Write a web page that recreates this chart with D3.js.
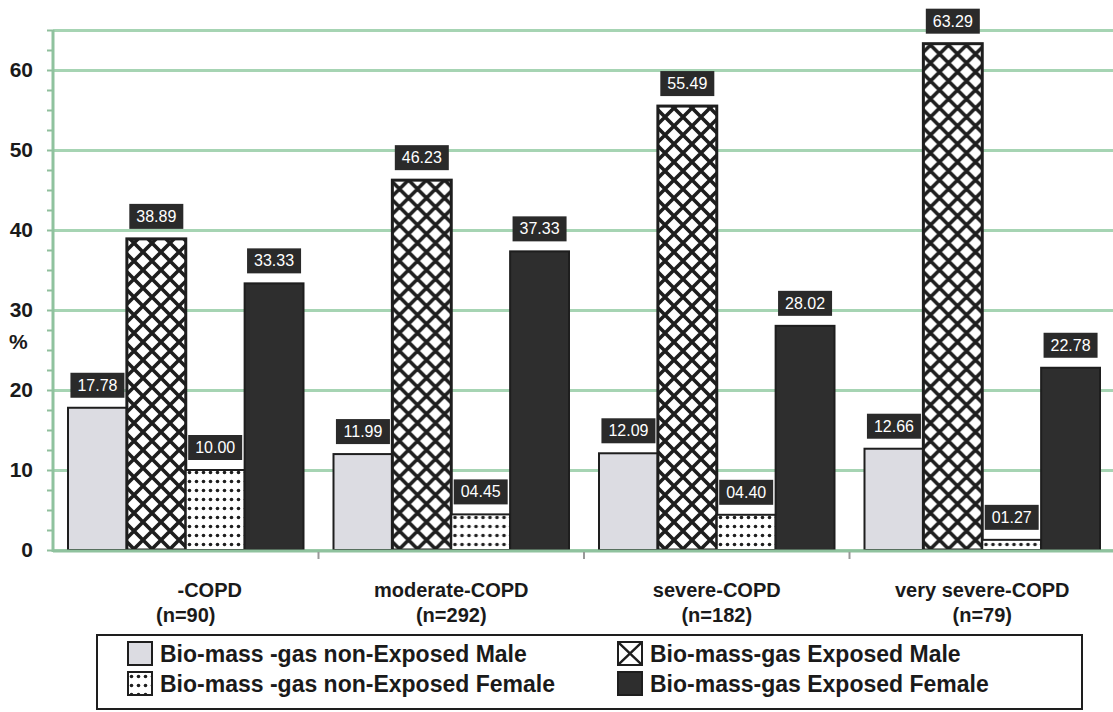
<!DOCTYPE html>
<html>
<head>
<meta charset="utf-8">
<script src="https://cdn.jsdelivr.net/npm/d3@7"></script>
<style>
  body { margin: 0; background: #fff; }
  svg { display: block; font-family: "Liberation Sans", Arial, sans-serif; }
</style>
</head>
<body>
<script>
// values
var categories = ["-COPD", "moderate-COPD", "severe-COPD", "very severe-COPD"]
var sampleSizes = ["(n=90)", "(n=292)", "(n=182)", "(n=79)"]
var seriesNames = [
  "Bio-mass -gas non-Exposed Male",
  "Bio-mass-gas Exposed Male",
  "Bio-mass -gas non-Exposed Female",
  "Bio-mass-gas Exposed Female"
]
var nonExposedMale = [17.78, 11.99, 12.09, 12.66]
var exposedMale = [38.89, 46.23, 55.49, 63.29]
var nonExposedFemale = [10.00, 4.45, 4.40, 1.27]
var exposedFemale = [33.33, 37.33, 28.02, 22.78]
var yTicks = [0, 10, 20, 30, 40, 50, 60]

var series = [nonExposedMale, exposedMale, nonExposedFemale, exposedFemale]
var fills = ["#dcdce2", "url(#cross)", "url(#dots)", "#2e2e2e"]

var width = 1113, height = 712
var green = "#a6d4b3"

var svg = d3.select("body")
  .append("svg")
  .attr("width", width)
  .attr("height", height)

var defs = svg.append("defs")

var cross = defs.append("pattern")
  .attr("id", "cross")
  .attr("patternUnits", "userSpaceOnUse")
  .attr("width", 18).attr("height", 18)
cross.append("rect").attr("width", 18).attr("height", 18).attr("fill", "#fff")
cross.append("path")
  .attr("d", "M-2,-2L20,20M20,-2L-2,20")
  .attr("stroke", "#1e1e1e").attr("stroke-width", 3.6)

var crossKey = defs.append("pattern")
  .attr("id", "crossKey")
  .attr("patternUnits", "objectBoundingBox")
  .attr("patternContentUnits", "objectBoundingBox")
  .attr("width", 1).attr("height", 1)
crossKey.append("rect").attr("width", 1).attr("height", 1).attr("fill", "#fff")
crossKey.append("path")
  .attr("d", "M0,0L1,1M1,0L0,1")
  .attr("stroke", "#1e1e1e").attr("stroke-width", 0.1)

var dots = defs.append("pattern")
  .attr("id", "dots")
  .attr("patternUnits", "userSpaceOnUse")
  .attr("width", 7).attr("height", 9)
dots.append("rect").attr("width", 7).attr("height", 9).attr("fill", "#fff")
dots.append("circle").attr("cx", 3.5).attr("cy", 4.5).attr("r", 1.8).attr("fill", "#1e1e1e")

var x0 = d3.scaleBand()
  .domain(categories)
  .range([53, 1115])

var x1 = d3.scaleBand()
  .domain(d3.range(series.length))
  .range([15, x0.bandwidth() - 15])

var y = d3.scaleLinear()
  .domain([0, 65])
  .range([550, 30])

// gridlines
svg.append("g")
  .attr("transform", "translate(53,0)")
  .call(d3.axisLeft(y).tickValues(yTicks.concat([65])).tickSize(-(width - 53)).tickFormat(""))
  .call(function(g){
    g.select(".domain").remove()
    g.selectAll("line").attr("stroke", green).attr("stroke-width", 3)
  })

// minor ticks on the y axis
svg.append("g")
  .attr("transform", "translate(53,0)")
  .call(d3.axisLeft(y).tickValues(d3.range(0, 65.1, 2.5)).tickSize(6).tickFormat(""))
  .call(function(g){
    g.select(".domain").remove()
    g.selectAll("line").attr("stroke", "#8fbf9c").attr("stroke-width", 2)
  })

// y axis labels
svg.append("g")
  .attr("transform", "translate(33,0)")
  .call(d3.axisLeft(y).tickValues(yTicks).tickSize(0).tickPadding(0))
  .call(function(g){
    g.select(".domain").remove()
    g.selectAll("text")
      .attr("font-family", "'Liberation Sans', Arial, sans-serif")
      .attr("font-size", 21)
      .attr("font-weight", "bold")
      .attr("fill", "#1a1a1a")
  })

svg.append("text").text("%")
  .attr("x", 9).attr("y", 349)
  .attr("font-size", 21).attr("font-weight", "bold").attr("fill", "#1a1a1a")

// bars
var groups = svg.selectAll("g.group")
  .data(categories)
  .enter()
  .append("g")
  .attr("class", "group")
  .attr("transform", function(d){ return "translate(" + x0(d) + ",0)" })

groups.selectAll("rect")
  .data(function(d, i){ return series.map(function(s, k){ return {k: k, v: s[i]} }) })
  .enter()
  .append("rect")
  .attr("x", function(d){ return x1(d.k) })
  .attr("width", x1.bandwidth())
  .attr("y", function(d){ return y(d.v) })
  .attr("height", function(d){ return y(0) - y(d.v) })
  .attr("fill", function(d){ return fills[d.k] })
  .attr("stroke", "#1e1e1e")
  .attr("stroke-width", function(d){ return d.k == 1 ? 3 : 2 })

// axis lines drawn over the bar bottoms
svg.append("line")
  .attr("x1", 53).attr("x2", width).attr("y1", 551).attr("y2", 551)
  .attr("stroke", "#8fc29e").attr("stroke-width", 3)
svg.append("line")
  .attr("x1", 53).attr("x2", 53).attr("y1", 30).attr("y2", 552)
  .attr("stroke", "#8fc29e").attr("stroke-width", 3)

// small ticks between the groups
svg.selectAll("line.xtick")
  .data(categories.slice(1))
  .enter()
  .append("line")
  .attr("class", "xtick")
  .attr("x1", function(d){ return x0(d) }).attr("x2", function(d){ return x0(d) })
  .attr("y1", 552).attr("y2", 559)
  .attr("stroke", "#999").attr("stroke-width", 2)

// value labels
var fmt = d3.format("05.2f")
var labels = groups.selectAll("g.lab")
  .data(function(d, i){ return series.map(function(s, k){ return {k: k, v: s[i]} }) })
  .enter()
  .append("g")
  .attr("class", "lab")
  .attr("transform", function(d){
    return "translate(" + (x1(d.k) + x1.bandwidth() / 2) + "," + (y(d.v) - 10) + ")"
  })
labels.append("rect")
  .attr("x", -27).attr("y", -25)
  .attr("width", 54).attr("height", 25)
  .attr("fill", "#2a2a2a")
labels.append("text")
  .text(function(d){ return fmt(d.v) })
  .attr("text-anchor", "middle")
  .attr("y", -7)
  .attr("font-size", 16)
  .attr("fill", "#fff")

// category labels
var catLabels = svg.selectAll("text.cat")
  .data(categories)
  .enter()
  .append("text")
  .attr("class", "cat")
  .attr("text-anchor", "middle")
  .attr("font-size", 20)
  .attr("font-weight", "bold")
  .attr("fill", "#1a1a1a")
catLabels.append("tspan")
  .attr("x", function(d){ return x0(d) + x0.bandwidth() / 2 })
  .attr("dx", function(d, i){ return i == 0 ? 24 : 0 })
  .attr("y", 597)
  .text(function(d){ return d })
catLabels.append("tspan")
  .attr("x", function(d){ return x0(d) + x0.bandwidth() / 2 })
  .attr("y", 622)
  .text(function(d, i){ return sampleSizes[i] })

// legend
svg.append("rect")
  .attr("x", 97).attr("y", 635)
  .attr("width", 985).attr("height", 74)
  .attr("fill", "#fff")
  .attr("stroke", "#1e1e1e").attr("stroke-width", 2)

var keyFills = ["#dcdce2", "url(#crossKey)", "url(#dots)", "#2e2e2e"]
var legend = svg.selectAll("g.key")
  .data(seriesNames)
  .enter()
  .append("g")
  .attr("class", "key")
  .attr("transform", function(d, i){
    return "translate(" + (i % 2 == 0 ? 128 : 618) + "," + (i < 2 ? 642 : 672) + ")"
  })
legend.append("rect")
  .attr("width", 24).attr("height", 23)
  .attr("fill", function(d, i){ return keyFills[i] })
  .attr("stroke", "#1e1e1e").attr("stroke-width", 2)
legend.append("text")
  .text(function(d){ return d })
  .attr("x", 32).attr("y", 20)
  .attr("font-size", 23)
  .attr("font-weight", "bold")
  .attr("fill", "#1a1a1a")
</script>
</body>
</html>
